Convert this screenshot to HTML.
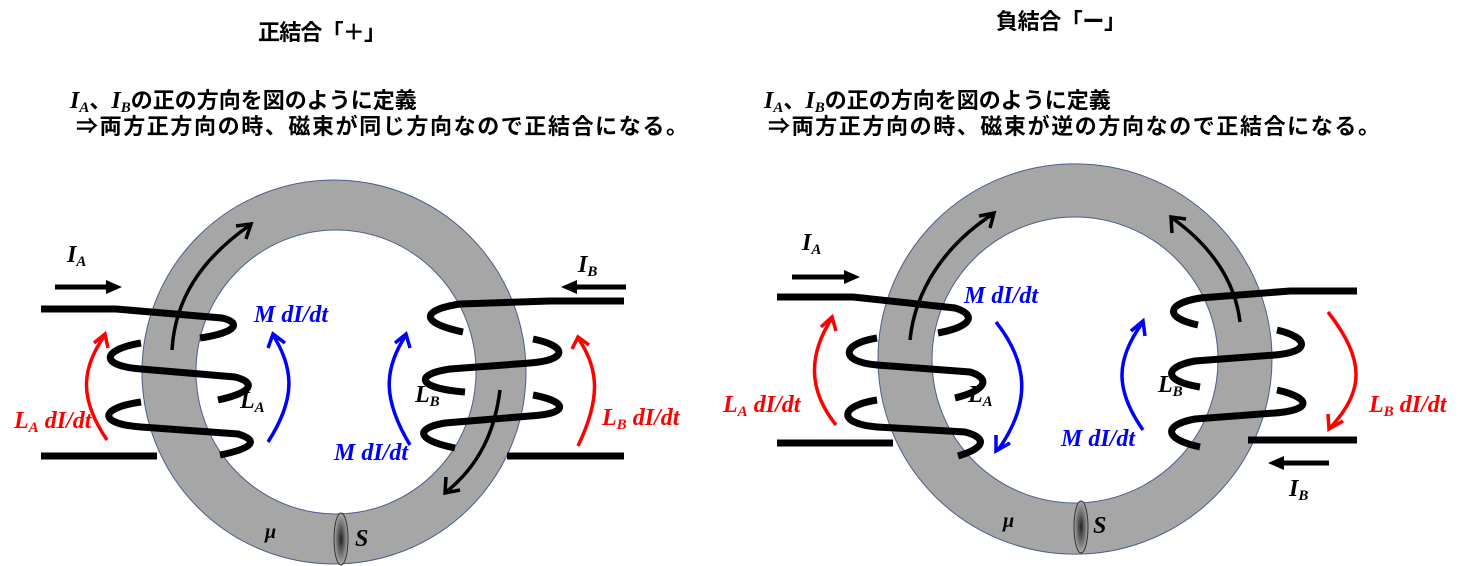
<!DOCTYPE html>
<html><head><meta charset="utf-8"><style>
html,body{margin:0;padding:0;background:#fff;}
svg{display:block;}
.j{font-family:"Liberation Sans","Noto Sans CJK JP",sans-serif;font-weight:bold;font-size:22px;fill:#000;}
.t{font-family:"Liberation Serif",serif;font-weight:bold;font-style:italic;font-size:24px;}
.s{font-size:15px;}
.w{fill:none;stroke:#000;stroke-width:7;stroke-linecap:butt;}
.a{fill:none;stroke-width:3.5;}
</style></head><body>
<svg width="1470" height="566" viewBox="0 0 1470 566" xmlns="http://www.w3.org/2000/svg">
<defs>
<radialGradient id="g" cx="0.5" cy="0.5" r="0.5"><stop offset="0" stop-color="#222"/><stop offset="1" stop-color="#aaa"/></radialGradient>
</defs>
<text class="j" x="258" y="40" textLength="128">正結合「＋」</text>
<text class="j" x="996" y="29" textLength="130">負結合「ー」</text>
<text class="j" x="70" y="108"><tspan class="t">I<tspan class="s" dy="4">A</tspan></tspan><tspan dy="-4">、</tspan><tspan class="t">I<tspan class="s" dy="4">B</tspan></tspan><tspan dy="-4">の正の方向を図のように定義</tspan></text>
<text class="j" x="76" y="134" textLength="612">⇒両方正方向の時、磁束が同じ方向なので正結合になる。</text>
<text class="j" x="764" y="108"><tspan class="t">I<tspan class="s" dy="4">A</tspan></tspan><tspan dy="-4">、</tspan><tspan class="t">I<tspan class="s" dy="4">B</tspan></tspan><tspan dy="-4">の正の方向を図のように定義</tspan></text>
<text class="j" x="768" y="134" textLength="612">⇒両方正方向の時、磁束が逆の方向なので正結合になる。</text>

<path d="M142,372 a192,192 0 1,0 384,0 a192,192 0 1,0 -384,0 Z M196,372 a140,142 0 1,1 280,0 a140,142 0 1,1 -280,0 Z" fill="#a6a6a6" fill-rule="evenodd" stroke="#4a5f8a" stroke-width="1"/>
<ellipse cx="341" cy="539" rx="7" ry="26" fill="url(#g)" stroke="#333" stroke-width="1"/>
<path class="w" d="M41,309 H116 L222,318 C240,322 240,332 200,338"/>
<path class="w" d="M141,343 C100,350 100,366 141,369 L235,377 C255,382 255,392 218,400"/>
<path class="w" d="M141,402 C98,408 98,424 141,427 L238,434 C258,440 255,448 220,455"/>
<line class="w" x1="41" y1="456" x2="157" y2="456"/>
<path class="w" d="M624,301 H550 L460,304 C420,310 420,323 463,332"/>
<path class="w" d="M533,339 C568,346 568,360 530,363 L450,369 C415,374 415,388 465,392"/>
<path class="w" d="M533,395 C570,402 568,414 530,416 L445,423 C415,428 415,440 455,448"/>
<line class="w" x1="507" y1="456" x2="624" y2="456"/>
<path class="a" stroke="#000" d="M172,350 C175,300 200,260 250,225 M236,226 L251,224 L246,239"/>
<path class="a" stroke="#000" d="M500,390 C495,430 480,465 446,492 M446,477 L445,493 L460,490"/>
<line x1="55" y1="287" x2="108" y2="287" stroke="#000" stroke-width="5"/><polygon points="106,280 122,287 106,294"/>
<line x1="575" y1="287" x2="626" y2="287" stroke="#000" stroke-width="5"/><polygon points="577,280 561,287 577,294"/>
<path class="a" stroke="#f00" d="M107,440 C80,400 80,370 105,335 M94,343 L105,334 L108,348"/>
<path class="a" stroke="#f00" d="M578,446 C600,400 600,370 578,338 M572,349 L578,337 L589,345"/>
<path class="a" stroke="#00f" d="M268,442 C295,400 295,370 273,335 M268,348 L273,334 L285,343"/>
<path class="a" stroke="#00f" d="M410,445 C383,400 383,370 406,335 M395,343 L406,334 L410,348"/>
<text class="t" x="67" y="262">I<tspan class="s" dy="4">A</tspan></text>
<text class="t" x="578" y="272">I<tspan class="s" dy="4">B</tspan></text>
<text class="t" x="254" y="322" fill="#00f">M dI/dt</text>
<text class="t" x="14" y="428" fill="#f00">L<tspan class="s" dy="4">A</tspan><tspan dy="-4"> dI/dt</tspan></text>
<text class="t" x="240" y="408">L<tspan class="s" dy="4">A</tspan></text>
<text class="t" x="415" y="402">L<tspan class="s" dy="4">B</tspan></text>
<text class="t" x="334" y="460" fill="#00f">M dI/dt</text>
<text class="t" x="602" y="425" fill="#f00">L<tspan class="s" dy="4">B</tspan><tspan dy="-4"> dI/dt</tspan></text>
<text class="t" x="265" y="538" style="font-size:20px">μ</text>
<text class="t" x="355" y="546">S</text>

<path d="M878,359 a197,195 0 1,0 394,0 a197,195 0 1,0 -394,0 Z M932,360 a143,143 0 1,1 286,0 a143,143 0 1,1 -286,0 Z" fill="#a6a6a6" fill-rule="evenodd" stroke="#4a5f8a" stroke-width="1"/>
<ellipse cx="1081" cy="527" rx="7" ry="26" fill="url(#g)" stroke="#333" stroke-width="1"/>
<path class="w" d="M777,297 H853 L955,308 C975,314 975,326 938,333"/>
<path class="w" d="M877,338 C840,344 840,362 877,365 L970,372 C990,378 988,390 955,398"/>
<path class="w" d="M877,400 C838,406 838,424 877,427 L965,432 C988,438 985,448 958,456"/>
<line class="w" x1="777" y1="443" x2="893" y2="443"/>
<path class="w" d="M1357,291 H1290 L1200,298 C1165,304 1165,318 1198,325"/>
<path class="w" d="M1277,330 C1310,338 1310,352 1275,355 L1195,361 C1163,367 1163,381 1200,387"/>
<path class="w" d="M1277,390 C1312,398 1312,410 1275,413 L1195,419 C1163,425 1163,439 1200,447"/>
<line class="w" x1="1248" y1="440" x2="1357" y2="440"/>
<path class="a" stroke="#000" d="M910,340 C915,290 945,245 993,214 M979,216 L994,213 L990,228"/>
<path class="a" stroke="#000" d="M1240,322 C1235,280 1210,245 1172,218 M1172,233 L1171,217 L1186,219"/>
<line x1="792" y1="277" x2="846" y2="277" stroke="#000" stroke-width="5"/><polygon points="844,270 860,277 844,284"/>
<line x1="1282" y1="463" x2="1329" y2="463" stroke="#000" stroke-width="5"/><polygon points="1284,456 1268,463 1284,470"/>
<path class="a" stroke="#f00" d="M836,425 C808,390 808,355 832,318 M821,327 L832,317 L836,331"/>
<path class="a" stroke="#f00" d="M1328,312 C1365,360 1365,390 1330,428 M1328,414 L1329,429 L1343,421"/>
<path class="a" stroke="#00f" d="M996,322 C1030,365 1030,405 998,450 M996,435 L996,451 L1010,443"/>
<path class="a" stroke="#00f" d="M1143,430 C1115,390 1115,360 1143,322 M1131,331 L1143,321 L1145,336"/>
<text class="t" x="802" y="250">I<tspan class="s" dy="4">A</tspan></text>
<text class="t" x="1289" y="496">I<tspan class="s" dy="4">B</tspan></text>
<text class="t" x="964" y="303" fill="#00f">M dI/dt</text>
<text class="t" x="723" y="412" fill="#f00">L<tspan class="s" dy="4">A</tspan><tspan dy="-4"> dI/dt</tspan></text>
<text class="t" x="968" y="402">L<tspan class="s" dy="4">A</tspan></text>
<text class="t" x="1158" y="392">L<tspan class="s" dy="4">B</tspan></text>
<text class="t" x="1061" y="446" fill="#00f">M dI/dt</text>
<text class="t" x="1369" y="412" fill="#f00">L<tspan class="s" dy="4">B</tspan><tspan dy="-4"> dI/dt</tspan></text>
<text class="t" x="1003" y="527" style="font-size:20px">μ</text>
<text class="t" x="1093" y="533">S</text>
</svg>
</body></html>
